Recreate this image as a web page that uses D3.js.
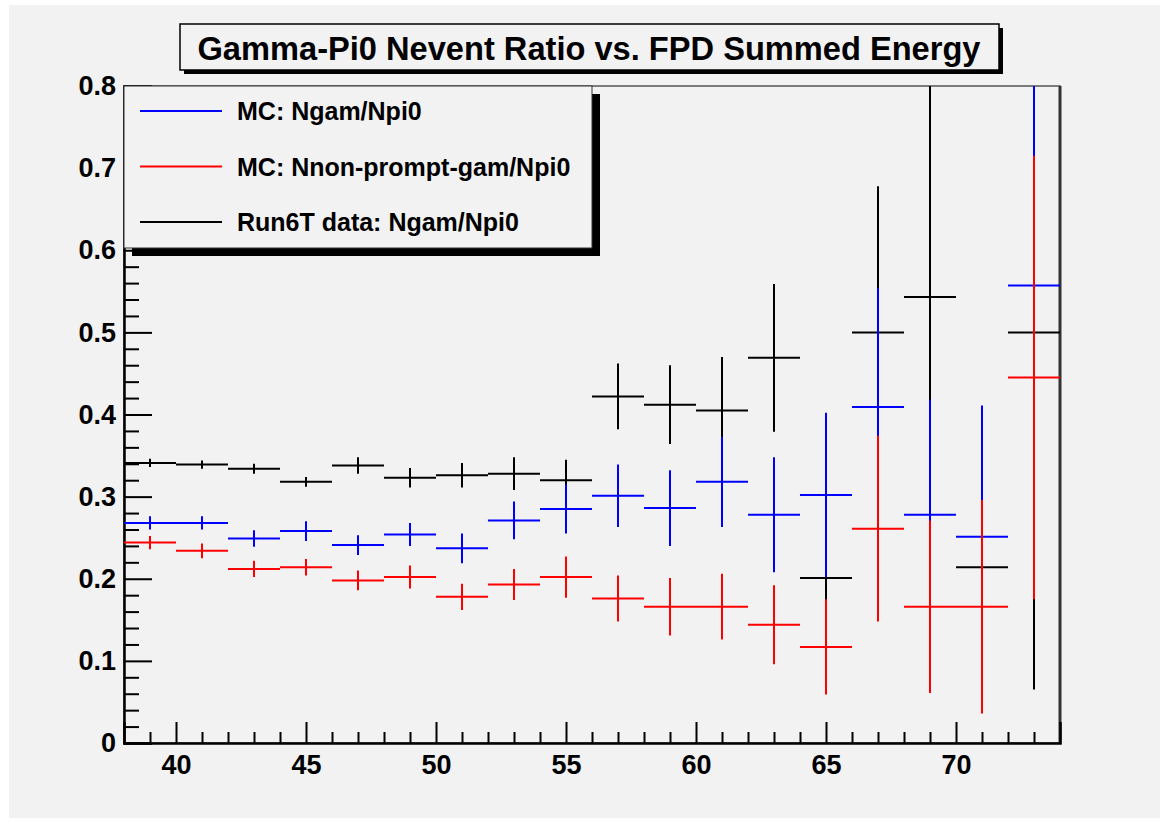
<!DOCTYPE html>
<html>
<head>
<meta charset="utf-8">
<script src="https://cdn.jsdelivr.net/npm/d3@7"></script>
<style>
  body { margin: 0; background: #ffffff; }
  text { font-family: "Liberation Sans", Arial, sans-serif; font-weight: bold; }
</style>
</head>
<body>
<script>
// bin centres (bins are 2 GeV wide)
var binCenters = [39, 41, 43, 45, 47, 49, 51, 53, 55, 57, 59, 61, 63, 65, 67, 69, 71, 73];

// MC: Ngam/Npi0
var mcGamVal = [0.268, 0.268, 0.249, 0.258, 0.241, 0.254, 0.237, 0.271, 0.285, 0.301, 0.286, 0.318, 0.278, 0.302, 0.409, 0.278, 0.251, 0.557];
var mcGamErr = [0.008, 0.008, 0.010, 0.012, 0.012, 0.014, 0.018, 0.023, 0.030, 0.038, 0.046, 0.055, 0.070, 0.100, 0.145, 0.140, 0.160, 0.300];

// MC: Nnon-prompt-gam/Npi0
var mcNpVal = [0.244, 0.234, 0.212, 0.214, 0.198, 0.202, 0.178, 0.193, 0.202, 0.176, 0.166, 0.166, 0.144, 0.117, 0.261, 0.166, 0.166, 0.445];
var mcNpErr = [0.008, 0.009, 0.010, 0.010, 0.012, 0.014, 0.016, 0.019, 0.025, 0.028, 0.035, 0.040, 0.048, 0.058, 0.113, 0.105, 0.130, 0.270];

// Run6T data: Ngam/Npi0
var dataVal = [0.341, 0.339, 0.334, 0.318, 0.338, 0.323, 0.326, 0.328, 0.320, 0.422, 0.412, 0.405, 0.469, 0.201, 0.500, 0.543, 0.214, 0.500];
var dataErr = [0.005, 0.005, 0.006, 0.006, 0.010, 0.012, 0.015, 0.020, 0.025, 0.040, 0.048, 0.065, 0.090, 0.030, 0.178, 0.300, 0.070, 0.435];

var yMajor = [0, 0.1, 0.2, 0.3, 0.4, 0.5, 0.6, 0.7, 0.8];
var xMajor = [40, 45, 50, 55, 60, 65, 70];

var legendItems = [
  {label: "MC: Ngam/Npi0", color: "#0000ff"},
  {label: "MC: Nnon-prompt-gam/Npi0", color: "#ff0000"},
  {label: "Run6T data: Ngam/Npi0", color: "#000000"}
];

var titleText = "Gamma-Pi0 Nevent Ratio vs. FPD Summed Energy";

var width = 1163, height = 822;
var svg = d3.select("body").append("svg")
            .attr("width", width)
            .attr("height", height);

// canvas background
svg.append("rect")
   .attr("x", 9).attr("y", 5)
   .attr("width", 1151).attr("height", 813)
   .attr("fill", "#f2f2f2");

var x = d3.scaleLinear().domain([38, 74]).range([124, 1060]);
var y = d3.scaleLinear().domain([0, 0.8]).range([743, 86]);

// frame
svg.append("rect")
   .attr("x", x(38)).attr("y", y(0.8))
   .attr("width", x(74) - x(38)).attr("height", y(0) - y(0.8))
   .attr("fill", "#f2f2f2")
   .attr("stroke", "#555").attr("stroke-width", 1.5);
svg.append("line")
   .attr("x1", x(74)).attr("x2", x(74))
   .attr("y1", y(0.8)).attr("y2", y(0) + 1)
   .attr("stroke", "#333").attr("stroke-width", 3);

svg.append("clipPath").attr("id", "plotClip")
   .append("rect")
   .attr("x", x(38)).attr("y", y(0.8))
   .attr("width", x(74) - x(38)).attr("height", y(0) - y(0.8));

// y axis, ticks inside
var yMinorVals = d3.range(1, 40).map(function(i){ return i * 0.02; })
                   .filter(function(v, i){ return (i + 1) % 5 !== 0; });
svg.append("g")
   .attr("transform", "translate(" + x(38) + ",0)")
   .call(d3.axisLeft(y).tickValues(yMinorVals).tickSize(-15).tickFormat(""))
   .call(function(g){ g.select(".domain").remove(); })
   .selectAll("line").attr("stroke", "#000").attr("stroke-width", 2);

var yAxis = svg.append("g")
   .attr("transform", "translate(" + x(38) + ",0)")
   .call(d3.axisLeft(y).tickValues(yMajor).tickSize(-28).tickPadding(8)
           .tickFormat(function(d){ return d === 0 ? "0" : d3.format(".1f")(d); }));
yAxis.select(".domain").attr("stroke", "#000").attr("stroke-width", 2.5);
yAxis.selectAll("line").attr("stroke", "#000").attr("stroke-width", 2);
yAxis.selectAll("text").attr("font-size", "27px").attr("fill", "#000")
     .attr("font-family", "Liberation Sans, Arial, sans-serif").attr("font-weight", "bold");

// x axis, ticks inside
var xMinorVals = d3.range(39, 74).filter(function(v){ return v % 5 !== 0; });
svg.append("g")
   .attr("transform", "translate(0," + y(0) + ")")
   .call(d3.axisBottom(x).tickValues(xMinorVals).tickSize(-11).tickFormat(""))
   .call(function(g){ g.select(".domain").remove(); })
   .selectAll("line").attr("stroke", "#000").attr("stroke-width", 2);

var xAxis = svg.append("g")
   .attr("transform", "translate(0," + y(0) + ")")
   .call(d3.axisBottom(x).tickValues(xMajor).tickSize(-21).tickPadding(12));
xAxis.select(".domain").attr("stroke", "#000").attr("stroke-width", 2.5);
xAxis.selectAll("line").attr("stroke", "#000").attr("stroke-width", 2);
xAxis.selectAll("text").attr("font-size", "27px").attr("fill", "#000")
     .attr("font-family", "Liberation Sans, Arial, sans-serif").attr("font-weight", "bold");

// error-bar crosses: black first, then blue, then red on top
var series = [
  {vals: dataVal, errs: dataErr, color: "#000000"},
  {vals: mcGamVal, errs: mcGamErr, color: "#0000ff"},
  {vals: mcNpVal, errs: mcNpErr, color: "#ff0000"}
];

var marks = svg.append("g").attr("clip-path", "url(#plotClip)");
series.forEach(function(s){
  var pts = binCenters.map(function(c, i){ return {c: c, v: s.vals[i], e: s.errs[i]}; });
  var g = marks.append("g");
  g.selectAll(".hbar").data(pts).enter().append("line")
   .attr("x1", function(d){ return x(d.c - 1); })
   .attr("x2", function(d){ return x(d.c + 1); })
   .attr("y1", function(d){ return y(d.v); })
   .attr("y2", function(d){ return y(d.v); })
   .attr("stroke", s.color).attr("stroke-width", 2);
  g.selectAll(".vbar").data(pts).enter().append("line")
   .attr("x1", function(d){ return x(d.c); })
   .attr("x2", function(d){ return x(d.c); })
   .attr("y1", function(d){ return y(d.v - d.e); })
   .attr("y2", function(d){ return y(d.v + d.e); })
   .attr("stroke", s.color).attr("stroke-width", 2);
});

// legend
var lg = {x: 124, y: 86, w: 468, h: 162};
svg.append("rect")
   .attr("x", lg.x + 8).attr("y", lg.y + 8)
   .attr("width", lg.w).attr("height", lg.h)
   .attr("fill", "#000");
svg.append("rect")
   .attr("x", lg.x).attr("y", lg.y)
   .attr("width", lg.w).attr("height", lg.h)
   .attr("fill", "#f2f2f2").attr("stroke", "#333").attr("stroke-width", 1);

var legendY = d3.scalePoint().domain(legendItems.map(function(d){ return d.label; }))
                .range([111, 222]);
var entries = svg.selectAll(".legendEntry")
   .data(legendItems).enter().append("g");
entries.append("line")
   .attr("x1", 140).attr("x2", 222)
   .attr("y1", function(d){ return legendY(d.label); })
   .attr("y2", function(d){ return legendY(d.label); })
   .attr("stroke", function(d){ return d.color; }).attr("stroke-width", 2);
entries.append("text")
   .attr("x", 237)
   .attr("y", function(d){ return legendY(d.label); })
   .attr("dy", "0.36em")
   .attr("font-size", "25px")
   .attr("fill", "#000")
   .text(function(d){ return d.label; });

// title box
svg.append("rect")
   .attr("x", 184).attr("y", 28)
   .attr("width", 819).attr("height", 46)
   .attr("fill", "#000");
svg.append("rect")
   .attr("x", 180).attr("y", 24)
   .attr("width", 819).attr("height", 46)
   .attr("fill", "#f2f2f2").attr("stroke", "#000").attr("stroke-width", 1.5);
svg.append("text")
   .attr("x", 589).attr("y", 60)
   .attr("text-anchor", "middle")
   .attr("font-size", "34px")
   .attr("textLength", 783)
   .attr("lengthAdjust", "spacingAndGlyphs")
   .attr("fill", "#000")
   .text(titleText);
</script>
</body>
</html>
